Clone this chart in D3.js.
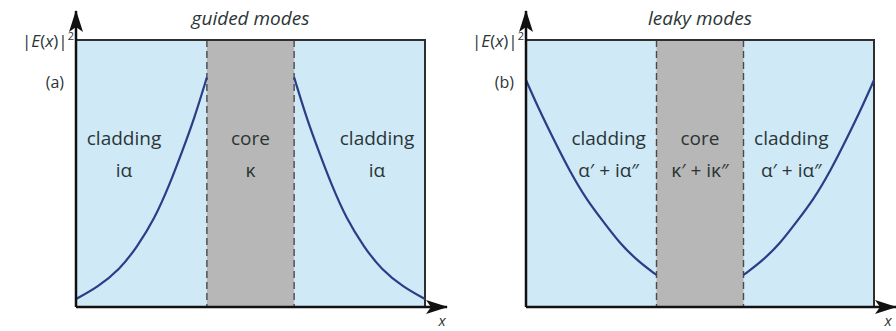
<!DOCTYPE html>
<html>
<head>
<meta charset="utf-8">
<script src="https://cdn.jsdelivr.net/npm/d3@7"></script>
<style>
  body { margin: 0; background: #fff; }
  svg text { font-family: "Open Sans", "Noto Sans", sans-serif; fill: #2b3535; }
</style>
</head>
<body>
<div id="chart"></div>
<script>
// Region boundaries (x in arbitrary units, core is [-1, 1])
const boxEdges = [-4, 4];
const coreEdges = [-1, 1];

// Guided mode |E(x)|^2
const guidedLeftX = [-4, -3.5, -3, -2.6, -2.2, -1.85, -1.55, -1.3, -1];
const guidedLeftY = [0.03, 0.075, 0.14, 0.225, 0.33, 0.46, 0.59, 0.70, 0.86];
const guidedRightX = [1, 1.3, 1.55, 1.85, 2.2, 2.6, 3, 3.5, 4];
const guidedRightY = [0.86, 0.70, 0.59, 0.46, 0.33, 0.225, 0.14, 0.075, 0.03];

// Leaky mode |E(x)|^2
const leakyLeftX = [-4, -3.7, -3.4, -3, -2.6, -2.2, -1.85, -1.45, -1];
const leakyLeftY = [0.85, 0.74, 0.64, 0.51, 0.40, 0.315, 0.24, 0.175, 0.12];
const leakyRightX = [1, 1.45, 1.85, 2.2, 2.6, 3, 3.4, 3.7, 4];
const leakyRightY = [0.12, 0.175, 0.24, 0.315, 0.40, 0.51, 0.64, 0.74, 0.85];

// Texts
const titles = ["guided modes", "leaky modes"];
const panelTags = ["(a)", "(b)"];
const regionNames = ["cladding", "core", "cladding"];
const guidedConsts = ["i\u03b1", "\u03ba", "i\u03b1"];
const leakyConsts = ["\u03b1\u2032 + i\u03b1\u2033", "\u03ba\u2032 + i\u03ba\u2033", "\u03b1\u2032 + i\u03b1\u2033"];

const width = 896, height = 331;
const boxTop = 40, boxBottom = 307;

const panels = [
    { left: 76, right: 425, labelX: [-2.9, 0, 2.9], consts: guidedConsts, xLabelDx: 17,
      curves: [[guidedLeftX, guidedLeftY], [guidedRightX, guidedRightY]] },
    { left: 526, right: 874, labelX: [-2.1, 0, 2.1], consts: leakyConsts, xLabelDx: 14,
      curves: [[leakyLeftX, leakyLeftY], [leakyRightX, leakyRightY]] }
];

const svg = d3.select("#chart").append("svg")
    .attr("width", width)
    .attr("height", height);

// arrow head
svg.append("defs").append("marker")
    .attr("id", "arrow")
    .attr("markerUnits", "userSpaceOnUse")
    .attr("viewBox", "0 -7 22 14")
    .attr("refX", 21)
    .attr("refY", 0)
    .attr("markerWidth", 22)
    .attr("markerHeight", 14)
    .attr("orient", "auto")
    .append("path")
    .attr("d", "M0,-7 L22,0 L0,7 L5,0 Z")
    .attr("fill", "#111");

panels.forEach((p, i) => {
    const x = d3.scaleLinear().domain(boxEdges).range([p.left, p.right]);
    const y = d3.scaleLinear().domain([0, 1]).range([boxBottom, boxTop]);
    const g = svg.append("g");

    // background regions
    g.append("rect")
        .attr("x", x(boxEdges[0])).attr("y", y(1))
        .attr("width", x(boxEdges[1]) - x(boxEdges[0]))
        .attr("height", y(0) - y(1))
        .attr("fill", "#cfe9f7");
    g.append("rect")
        .attr("x", x(coreEdges[0])).attr("y", y(1))
        .attr("width", x(coreEdges[1]) - x(coreEdges[0]))
        .attr("height", y(0) - y(1))
        .attr("fill", "#b7b7b7");

    // dashed interfaces
    g.selectAll(".iface").data(coreEdges).enter().append("line")
        .attr("x1", d => x(d)).attr("x2", d => x(d))
        .attr("y1", y(1)).attr("y2", y(0))
        .attr("stroke", "#4a4a4a")
        .attr("stroke-width", 1.4)
        .attr("stroke-dasharray", "7,4");

    // top & right edges of box
    g.append("path")
        .attr("d", `M${x(boxEdges[0])},${y(1)} H${x(boxEdges[1])} V${y(0)}`)
        .attr("fill", "none")
        .attr("stroke", "#2e2e2e")
        .attr("stroke-width", 2);

    // field curves
    const line = d3.line()
        .x(d => x(d[0]))
        .y(d => y(d[1]))
        .curve(d3.curveBasis);
    p.curves.forEach(([xs, ys]) => {
        g.append("path")
            .datum(xs.map((v, k) => [v, ys[k]]))
            .attr("d", line)
            .attr("fill", "none")
            .attr("stroke", "#2b3d86")
            .attr("stroke-width", 2.2);
    });

    // axes with arrows
    g.append("line")
        .attr("x1", x(boxEdges[0])).attr("y1", y(0))
        .attr("x2", x(boxEdges[0])).attr("y2", 11)
        .attr("stroke", "#111").attr("stroke-width", 2.5)
        .attr("marker-end", "url(#arrow)");
    g.append("line")
        .attr("x1", x(boxEdges[0])).attr("y1", y(0))
        .attr("x2", x(boxEdges[1]) + 22).attr("y2", y(0))
        .attr("stroke", "#111").attr("stroke-width", 2.5)
        .attr("marker-end", "url(#arrow)");

    // labels
    g.append("text")
        .attr("x", (x(boxEdges[0]) + x(boxEdges[1])) / 2)
        .attr("y", 25)
        .attr("text-anchor", "middle")
        .attr("font-size", 19)
        .attr("font-style", "italic")
        .attr("fill", "#3a3a3a")
        .text(titles[i]);

    const ylab = g.append("text")
        .attr("x", x(boxEdges[0]) - 2)
        .attr("y", 47)
        .attr("text-anchor", "end")
        .attr("font-size", 17);
    ylab.append("tspan").text("|");
    ylab.append("tspan").attr("font-style", "italic").text("E");
    ylab.append("tspan").text("(");
    ylab.append("tspan").attr("font-style", "italic").text("x");
    ylab.append("tspan").text(")|");
    ylab.append("tspan").attr("font-size", 11).attr("dy", -7).text("2");

    g.append("text")
        .attr("x", x(boxEdges[0]) - 12)
        .attr("y", 88)
        .attr("text-anchor", "end")
        .attr("font-size", 16)
        .text(panelTags[i]);

    g.append("text")
        .attr("x", x(boxEdges[1]) + p.xLabelDx)
        .attr("y", 326)
        .attr("text-anchor", "middle")
        .attr("font-size", 15)
        .attr("font-style", "italic")
        .text("x");

    g.selectAll(".rname").data(regionNames).enter().append("text")
        .attr("x", (d, k) => x(p.labelX[k]))
        .attr("y", 145)
        .attr("text-anchor", "middle")
        .attr("font-size", 19)
        .text(d => d);
    g.selectAll(".rconst").data(p.consts).enter().append("text")
        .attr("x", (d, k) => x(p.labelX[k]))
        .attr("y", 177)
        .attr("text-anchor", "middle")
        .attr("font-size", 19)
        .text(d => d);
});
</script>
</body>
</html>
